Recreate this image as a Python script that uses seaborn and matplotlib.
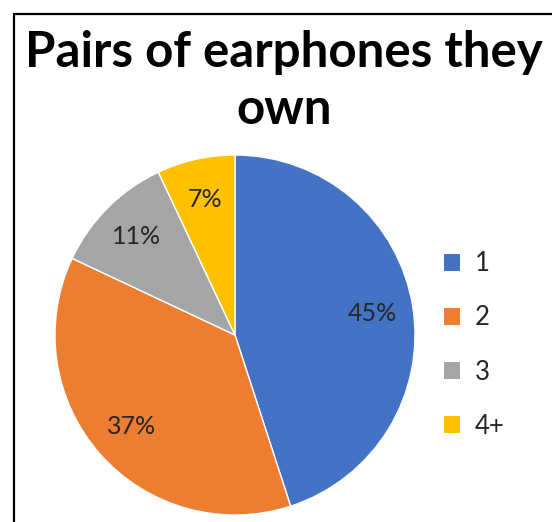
import matplotlib
matplotlib.use("Agg")
import matplotlib.pyplot as plt
import matplotlib.patches as mpatches
import seaborn as sns

sns.set_style("white")
plt.rcParams["font.family"] = ["Lato", "DejaVu Sans"]

categories = ["1", "2", "3", "4+"]
shares = [45, 37, 11, 7]
colors = ["#4472C4", "#ED7D31", "#A5A5A5", "#FFC000"]
title = "Pairs of earphones they\nown"

W, H = 552, 522
fig = plt.figure(figsize=(W / 100, H / 100), dpi=100)

# chart frame: left and top edges visible
fig.patches.append(mpatches.Rectangle((13.5 / W, -0.05), 1.2, (H - 13.5) / H + 0.05,
                                      transform=fig.transFigure, fill=False,
                                      edgecolor="black", linewidth=1.6))

cx, cy, r = 235, 335, 180
ax = fig.add_axes([(cx - r) / W, (H - cy - r) / H, 2 * r / W, 2 * r / H])
wedges, texts, autotexts = ax.pie(
    shares, colors=colors, startangle=90, counterclock=False,
    autopct=lambda p: f"{p:.0f}%", pctdistance=0.77,
    wedgeprops=dict(edgecolor="white", linewidth=1),
    textprops=dict(fontsize=18, color="#262626"))
ax.set_xlim(-1, 1)
ax.set_ylim(-1, 1)
ax.set_aspect("equal")
ax.axis("off")

fig.text(284 / W, 1 - 81 / H, title, ha="center", va="center",
         fontsize=35.5, fontweight="bold", color="black", linespacing=1.3)

handles = [mpatches.Patch(facecolor=c, edgecolor="none") for c in colors]
fig.legend(handles, categories, loc="center left",
           bbox_to_anchor=(421 / W, 1 - 345 / H), frameon=False,
           fontsize=18.5, handlelength=0.6, handleheight=0.6,
           handletextpad=0.6, labelspacing=1.13, labelcolor="#262626")

fig.savefig("out.png", dpi=100)
